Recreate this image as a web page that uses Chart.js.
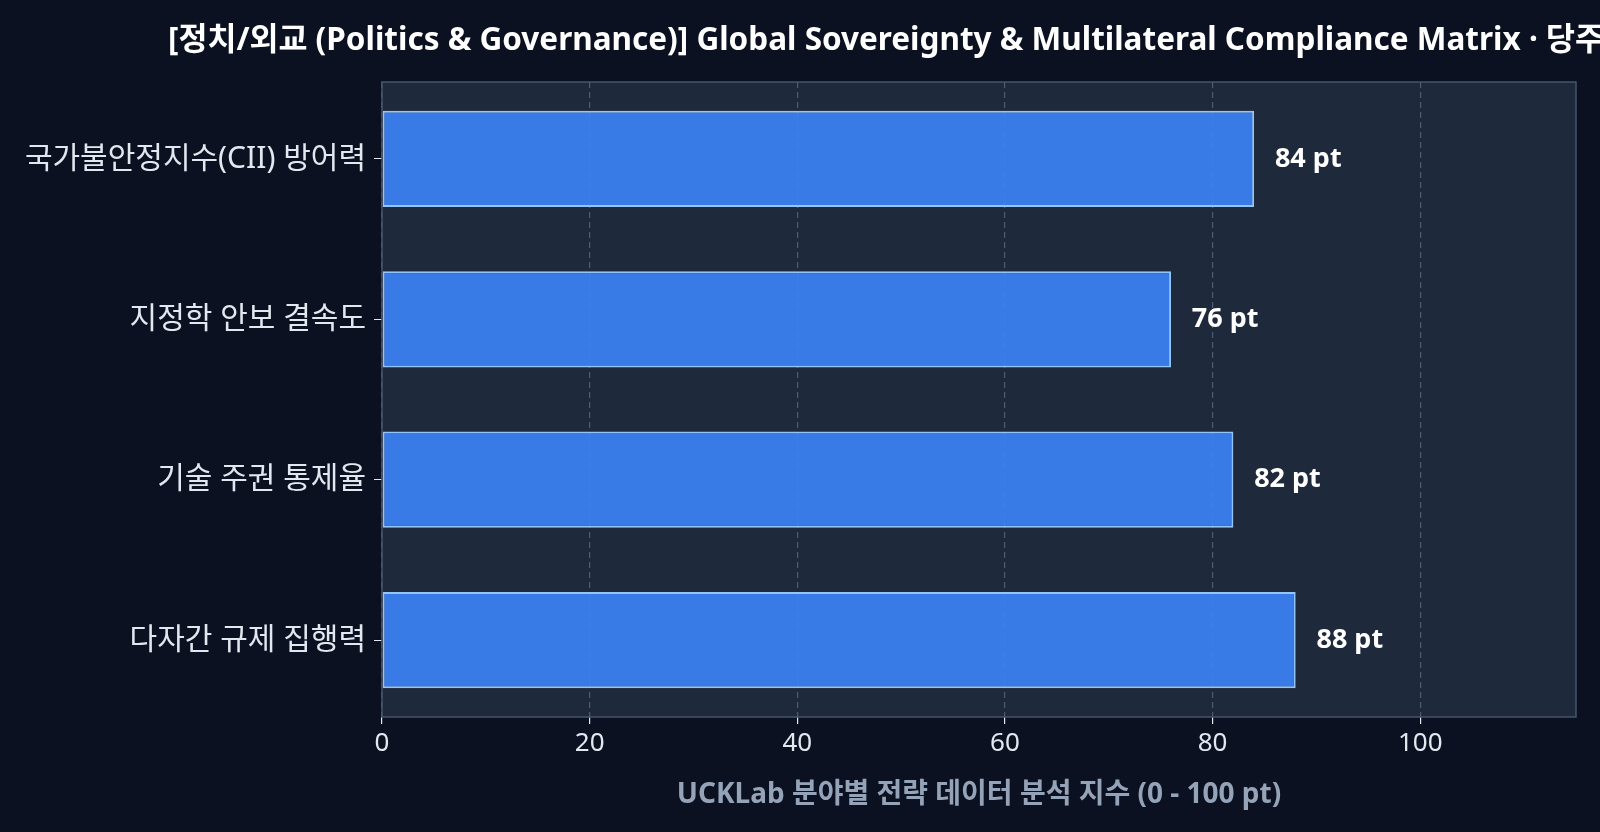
<!DOCTYPE html>
<html>
<head>
<meta charset="utf-8">
<script src="https://cdn.jsdelivr.net/npm/chart.js@4.4.1/dist/chart.umd.min.js"></script>
<style>
  html, body { margin: 0; padding: 0; background: #0b1120; overflow: hidden; }
  canvas { display: block; }
</style>
</head>
<body>
<canvas id="myChart" width="1600" height="832"></canvas>
<script>
const titleText = '[정치/외교 (Politics & Governance)] Global Sovereignty & Multilateral Compliance Matrix · 당주기 종합 분석';
const categories = ['국가불안정지수(CII) 방어력', '지정학 안보 결속도', '기술 주권 통제율', '다자간 규제 집행력'];
const scores = [84, 76, 82, 88];
const xTicks = [0, 20, 40, 60, 80, 100];
const xTitle = 'UCKLab 분야별 전략 데이터 분석 지수 (0 - 100 pt)';

const FONT = "'Noto Sans', 'Noto Sans CJK KR', sans-serif";

// plot background + frame, title, value labels
const decorPlugin = {
  id: 'decor',
  beforeDraw(chart) {
    const { ctx, chartArea: a } = chart;
    ctx.save();
    ctx.fillStyle = '#1e293b';
    ctx.fillRect(a.left, a.top, a.right - a.left, a.bottom - a.top);
    ctx.restore();
  },
  afterDraw(chart) {
    const { ctx, chartArea: a, scales } = chart;
    ctx.save();
    ctx.strokeStyle = '#475569';
    ctx.lineWidth = 1.5;
    ctx.strokeRect(a.left, a.top, a.right - a.left, a.bottom - a.top);

    ctx.fillStyle = '#ffffff';
    ctx.font = 'bold 31.5px ' + FONT;
    ctx.textAlign = 'left';
    ctx.textBaseline = 'middle';
    ctx.fillText(titleText, 168, 41);

    ctx.font = 'bold 27px ' + FONT;
    scores.forEach((v, i) => {
      ctx.fillText(v + ' pt', scales.x.getPixelForValue(v + 2), scales.y.getPixelForValue(i));
    });
    ctx.restore();
  }
};

const ctx = document.getElementById('myChart').getContext('2d');
const myChart = new Chart(ctx, {
  type: 'bar',
  data: {
    datasets: [
      {
        data: scores.map((v, i) => ({ x: v, y: i })),
        backgroundColor: 'rgba(59, 130, 246, 0.92)',
        borderColor: '#93c5fd',
        borderWidth: 2,
        borderSkipped: false,
        barPercentage: 0.6,
        categoryPercentage: 1,
      },
    ],
  },
  options: {
    indexAxis: 'y',
    responsive: false,
    maintainAspectRatio: false,
    animation: false,
    devicePixelRatio: 1,
    layout: { padding: { top: 82, right: 24, left: 0, bottom: 0 } },
    plugins: {
      legend: { display: false },
      tooltip: { enabled: false },
    },
    scales: {
      x: {
        type: 'linear',
        min: 0,
        max: 115,
        z: 1,
        afterBuildTicks: (axis) => {
          axis.ticks = xTicks.map((v) => ({ value: v }));
        },
        afterFit: (axis) => {
          axis.height = 115;
        },
        ticks: {
          color: '#e2e8f0',
          font: { family: FONT, size: 26 },
          padding: 4,
        },
        grid: {
          color: 'rgba(100, 116, 139, 0.7)',
          lineWidth: 1.2,
          tickColor: '#e2e8f0',
          tickLength: 7,
          tickBorderDash: [],
        },
        border: { display: false, dash: [6, 4] },
        title: {
          display: true,
          text: xTitle,
          color: '#94a3b8',
          font: { family: FONT, size: 28, weight: 'bold' },
          padding: { top: 4, bottom: 20 },
        },
      },
      y: {
        type: 'linear',
        min: -0.48,
        max: 3.48,
        reverse: true,
        offset: false,
        afterBuildTicks: (axis) => {
          axis.ticks = categories.map((c, i) => ({ value: i }));
        },
        afterFit: (axis) => {
          axis.width = 382;
        },
        ticks: {
          color: '#e2e8f0',
          font: { family: FONT, size: 30 },
          padding: 8,
          callback: (v) => categories[v],
        },
        grid: {
          offset: false,
          drawOnChartArea: false,
          tickColor: '#e2e8f0',
          tickLength: 8,
        },
        border: { display: false },
      },
    },
  },
  plugins: [decorPlugin],
});
</script>
</body>
</html>
